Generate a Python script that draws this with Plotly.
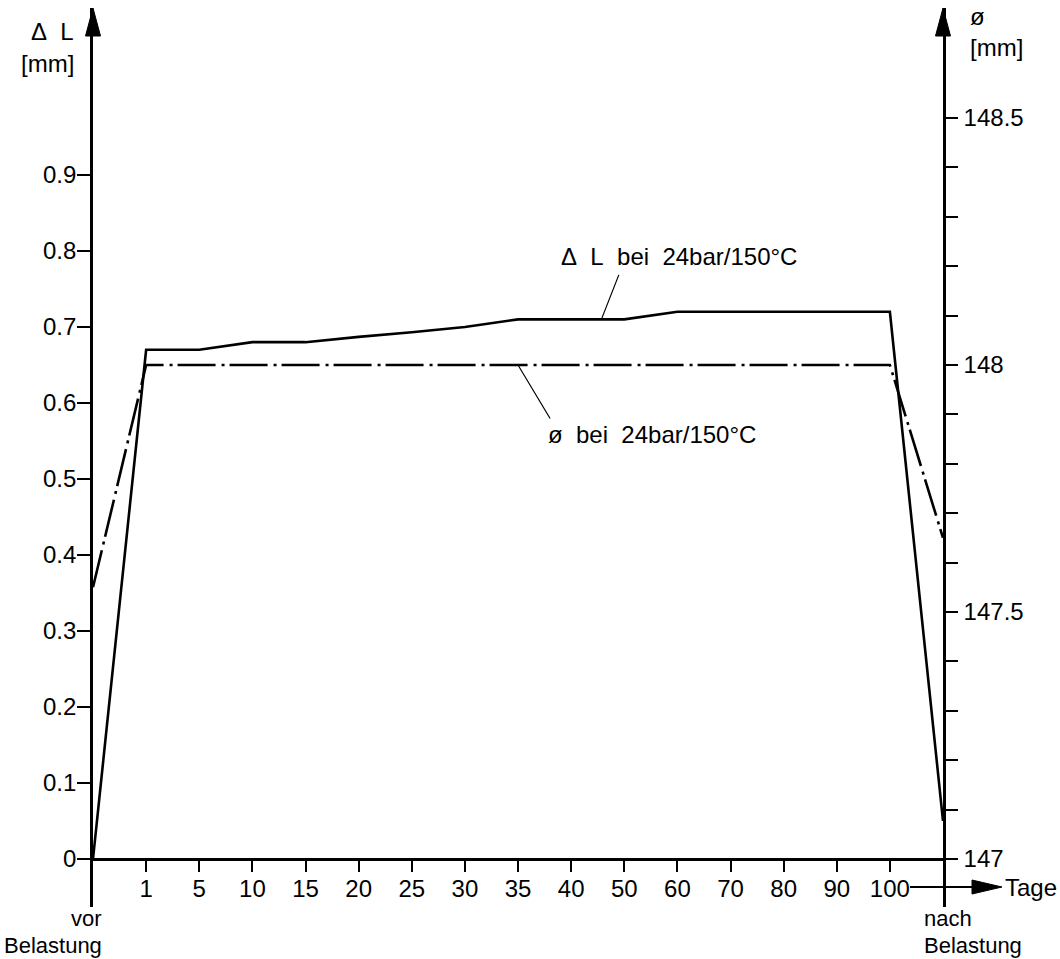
import plotly.graph_objects as go

# Measurement points along the test (days under load, plus before/after)
tage_labels = ["vor Belastung", "1", "5", "10", "15", "20", "25", "30", "35",
               "40", "50", "60", "70", "80", "90", "100", "nach Belastung"]
# Length change ΔL [mm] at 24 bar / 150 °C
delta_l = [0.0, 0.67, 0.67, 0.68, 0.68, 0.687, 0.693, 0.70, 0.71,
           0.71, 0.71, 0.72, 0.72, 0.72, 0.72, 0.72, 0.05]
# Diameter ø [mm] at 24 bar / 150 °C
durchmesser = [147.55, 148.0, 148.0, 148.0, 148.0, 148.0, 148.0, 148.0, 148.0,
               148.0, 148.0, 148.0, 148.0, 148.0, 148.0, 148.0, 147.65]

left_ticks = [0, 0.1, 0.2, 0.3, 0.4, 0.5, 0.6, 0.7, 0.8, 0.9]
left_ticktext = ["0", "0.1", "0.2", "0.3", "0.4", "0.5", "0.6", "0.7", "0.8", "0.9"]
right_ticks = [147 + i / 10 for i in range(16)]
right_labelled = {147.0: "147", 147.5: "147.5", 148.0: "148", 148.5: "148.5"}
right_ticktext = [right_labelled.get(round(v, 1), "") for v in right_ticks]

xs = list(range(len(tage_labels)))

W, H = 1060, 959
ML, MR, MT, MB = 93, 117, 8, 52
PW, PH = W - ML - MR, H - MT - MB

# left axis range: 0 sits on the time axis, extension below for the axis stubs
L0, L1 = -0.0632, 1.1197
# right axis: 147 mm aligned with ΔL=0, 148 mm aligned with ΔL=0.65
RATIO = 0.65
R0, R1 = 147 + L0 / RATIO, 147 + L1 / RATIO

FONT = "Liberation Sans, Arial, sans-serif"
INK = "black"


def px(xp):
    return (xp - ML) / PW


def py(yp):
    return (H - MB - yp) / PH


fig = go.Figure()

fig.add_trace(go.Scatter(
    x=xs, y=delta_l, mode="lines", name="ΔL",
    line=dict(color=INK, width=2.6), showlegend=False, cliponaxis=False))
fig.add_trace(go.Scatter(
    x=xs, y=durchmesser, mode="lines", name="ø", yaxis="y2",
    line=dict(color=INK, width=2.6, dash="38px,6px,3px,5px"),
    showlegend=False, cliponaxis=False))

shapes = []
# arrowheads at the tops of both vertical axes
for xa in (93, 943):
    shapes.append(dict(
        type="path", xref="paper", yref="paper",
        path=f"M {px(xa)} {py(8)} L {px(xa - 7.5)} {py(36)} L {px(xa + 7.5)} {py(36)} Z",
        fillcolor=INK, line=dict(color=INK, width=1)))
# time arrow after the last day label
shapes.append(dict(type="line", xref="paper", yref="paper",
                   x0=px(910), x1=px(975), y0=py(887), y1=py(887),
                   line=dict(color=INK, width=2)))
shapes.append(dict(
    type="path", xref="paper", yref="paper",
    path=f"M {px(1002)} {py(887)} L {px(972)} {py(880)} L {px(972)} {py(894)} Z",
    fillcolor=INK, line=dict(color=INK, width=1)))

annotations = []
txt = dict(family=FONT, size=24, color=INK)
# axis headings
annotations.append(dict(xref="paper", yref="paper", x=px(76), y=py(32),
                        text="Δ\u00a0\u00a0L", showarrow=False, xanchor="right",
                        yanchor="middle", font=txt))
annotations.append(dict(xref="paper", yref="paper", x=px(76), y=py(64),
                        text="[mm]", showarrow=False, xanchor="right",
                        yanchor="middle", font=txt))
annotations.append(dict(xref="paper", yref="paper", x=px(968), y=py(17),
                        text="ø", showarrow=False, xanchor="left",
                        yanchor="middle", font=txt))
annotations.append(dict(xref="paper", yref="paper", x=px(968), y=py(48),
                        text="[mm]", showarrow=False, xanchor="left",
                        yanchor="middle", font=txt))
annotations.append(dict(xref="paper", yref="paper", x=px(1003), y=py(887),
                        text="Tage", showarrow=False, xanchor="left",
                        yanchor="middle", font=txt))
# before / after labels under the vertical axes, one word per line
small = dict(family=FONT, size=22, color=INK)
for xp, anchor, label in ((104, "right", tage_labels[0]),
                          (922, "left", tage_labels[-1])):
    first, second = label.split(" ")
    annotations.append(dict(xref="paper", yref="paper", x=px(xp), y=py(919),
                            text=first, showarrow=False, xanchor=anchor,
                            yanchor="middle", font=small))
    annotations.append(dict(xref="paper", yref="paper", x=px(xp), y=py(945),
                            text=second, showarrow=False, xanchor=anchor,
                            yanchor="middle", font=small))

# curve labels with leader lines
annotations.append(dict(xref="x", yref="y", x=9.57, y=delta_l[9],
                        text="", showarrow=True, arrowhead=0, arrowwidth=1.2,
                        arrowcolor=INK, ax=18, ay=-46, standoff=0))
annotations.append(dict(xref="paper", yref="paper", x=px(559), y=py(256),
                        text="Δ\u00a0\u00a0L\u00a0\u00a0bei\u00a0\u00a024bar/150°C",
                        showarrow=False, xanchor="left", yanchor="middle", font=txt))
annotations.append(dict(xref="x", yref="y2", x=xs[8], y=durchmesser[8],
                        text="", showarrow=True, arrowhead=0, arrowwidth=1.2,
                        arrowcolor=INK, ax=33, ay=55, standoff=0))
annotations.append(dict(xref="paper", yref="paper", x=px(546), y=py(434),
                        text="ø\u00a0\u00a0bei\u00a0\u00a024bar/150°C",
                        showarrow=False, xanchor="left", yanchor="middle", font=txt))

fig.update_layout(
    width=W, height=H,
    margin=dict(l=ML, r=MR, t=MT, b=MB, pad=0),
    paper_bgcolor="white", plot_bgcolor="white",
    font=dict(family=FONT, size=24, color=INK),
    shapes=shapes, annotations=annotations,
    xaxis=dict(
        range=[xs[0], xs[-1]], tickmode="array", tickvals=xs[1:-1],
        ticktext=tage_labels[1:-1], ticks="outside", ticklen=11, tickwidth=2,
        tickcolor=INK, showline=True, linecolor=INK, linewidth=2.6,
        showgrid=False, zeroline=False, anchor="free",
        position=(0 - L0) / (L1 - L0), ticklabelstandoff=-4,
        tickfont=dict(family=FONT, size=24, color=INK)),
    yaxis=dict(
        range=[L0, L1], tickmode="array", tickvals=left_ticks,
        ticktext=left_ticktext, ticks="outside", ticklen=13, tickwidth=2,
        tickcolor=INK, showline=True, linecolor=INK, linewidth=2.6,
        showgrid=False, zeroline=False, ticklabelstandoff=-4,
        tickfont=dict(family=FONT, size=24, color=INK)),
    yaxis2=dict(
        range=[R0, R1], overlaying="y", side="right", tickmode="array",
        tickvals=right_ticks, ticktext=right_ticktext, ticks="outside",
        ticklen=12, tickwidth=2, tickcolor=INK, showline=True, linecolor=INK,
        linewidth=2.6, showgrid=False, zeroline=False, ticklabelstandoff=1,
        tickfont=dict(family=FONT, size=24, color=INK)),
)

fig.write_html("out.html")
